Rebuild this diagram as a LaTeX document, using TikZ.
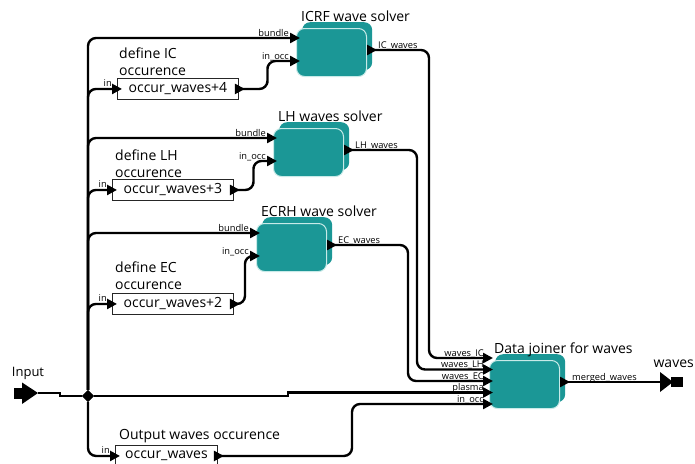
\documentclass[tikz,border=0pt]{standalone}
\usepackage{fontspec}
\setmainfont{Open Sans}
\usetikzlibrary{arrows.meta,calc,shapes.geometric}
\definecolor{actorfill}{RGB}{27,151,150}
\definecolor{actoredge}{RGB}{200,234,232}
\begin{document}
\begin{tikzpicture}[x=1pt,y=-1pt,
  wire/.style={line width=2.4pt, rounded corners=8pt, line join=round},
  tipin/.style={-{Triangle[length=10pt,width=10pt]}},
  tipboth/.style={{Triangle[reversed,length=10pt,width=10pt]}-{Triangle[length=10pt,width=10pt]}},
  actor/.style={fill=actorfill, draw=actoredge, line width=1pt, rounded corners=8pt,
    minimum width=70pt, minimum height=48pt, inner sep=0pt, anchor=north west},
  actorback/.style={fill=actorfill, rounded corners=8pt,
    minimum width=70pt, minimum height=48pt, inner sep=0pt, anchor=north west},
  title/.style={font=\fontsize{14}{16}\selectfont, anchor=base west, inner sep=0pt},
  portlbl/.style={font=\fontsize{9.3}{10}\selectfont, inner sep=0pt},
  expr/.style={draw=black!85, line width=0.9pt, fill=white, minimum width=121pt,
    minimum height=21pt, inner sep=0pt, anchor=north west, font=\fontsize{14}{16}\selectfont},
  caption/.style={font=\fontsize{14}{17}\selectfont, align=left, anchor=base west, inner sep=0pt},
]
\useasboundingbox (0,0) rectangle (695,463);

% ---------- composite actors (stacked teal boxes) ----------
\foreach \nm/\px/\py in {icrf/296/28, lh/273/128, ec/256/223, join/489/360}{
  \node[actorback] (\nm-back) at (\px+6,\py-6) {};
  \node[actor] (\nm) at (\px,\py) {};
}
\node[title] (icrf-title) at ($(icrf.north west)+(5,-7)$) {ICRF wave solver};
\node[title] (lh-title)   at ($(lh.north west)+(5,-7)$)   {LH waves solver};
\node[title] (ec-title)   at ($(ec.north west)+(5,-7)$)   {ECRH wave solver};
\node[title] (join-title) at ($(join.north west)+(5,-7)$) {Data joiner for waves};

% ports of the solvers
\foreach \nm in {icrf, lh, ec}{
  \coordinate (\nm-b)   at ($(\nm.north west)+(4,10)$);
  \coordinate (\nm-o)   at ($(\nm.north west)+(4,33)$);
  \coordinate (\nm-out) at ($(\nm.north east)+(0,22)$);
}
% ports of the joiner
\coordinate (j-ic)  at ($(join.north west)+(4,-2)$);
\coordinate (j-lh)  at ($(join.north west)+(4,9.5)$);
\coordinate (j-ec)  at ($(join.north west)+(4,21)$);
\coordinate (j-pl)  at ($(join.north west)+(4,32.5)$);
\coordinate (j-occ) at ($(join.north west)+(4,44)$);
\coordinate (j-out) at ($(join.north east)+(0,22)$);

% ---------- expression actors ----------
\node[expr] (icdef) at (117,78)  {occur\_waves+4};
\node[expr] (lhdef) at (112,179) {occur\_waves+3};
\node[expr] (ecdef) at (112,293) {occur\_waves+2};
\node[expr, minimum width=102pt] (oocc) at (115,445) {occur\_waves};

% multi-line captions: the base anchor sits on the last line
\node[caption] (icdef-cap) at (119,75)  {define IC\\occurence};
\node[caption] (lhdef-cap) at (115,177) {define LH\\occurence};
\node[caption] (ecdef-cap) at (115,289) {define EC\\occurence};
\node[caption] (oocc-cap)  at (119,439) {Output waves occurence};

\foreach \nm in {icdef, lhdef, ecdef, oocc}{
  \coordinate (\nm-in)  at ($(\nm.west)+(5,0)$);
  \coordinate (\nm-out) at ($(\nm.east)+(-4,0)$);
  \node[portlbl, anchor=base east] at ($(\nm-in)+(-10,-2)$) {in};
}

% ---------- external ports ----------
\coordinate (inport) at (38,393);
\fill[shift={(inport)}] (-24,-5) rectangle (-14,6);
\fill[shift={(inport)}] (-16,-10.5) -- (0,0) -- (-16,11) -- cycle;
\node[font=\fontsize{13}{15}\selectfont, inner sep=0pt] (inport-lbl) at (28,373) {Input};

\coordinate (outport) at (660,382);
\fill[shift={(outport)}] (0,-10) -- (13,0) -- (0,10) -- cycle;
\fill[shift={(outport)}] (11,-5) rectangle (23,5);
\node[font=\fontsize{14}{16}\selectfont, anchor=base east, inner sep=0pt] (outport-lbl) at (694,367) {waves};

% ---------- relation (junction) ----------
\coordinate (instep) at (60,393);
\coordinate (pstep)  at (288,396);
\coordinate (occbend) at (352,0);
\coordinate (icbend) at (429,0);
\coordinate (lhbend) at (417,0);
\coordinate (ecbend) at (408,0);
\node[diamond, fill=black, minimum size=12pt, inner sep=0pt] (jn) at (88,396) {};

% ---------- connectors ----------
\draw[line width=2.4pt] (inport) -- (instep) |- (jn);

\draw[wire, tipin] (jn) |- (icrf-b);
\draw[wire, tipin] (jn) |- (lh-b);
\draw[wire, tipin] (jn) |- (ec-b);
\draw[wire, tipin] (jn) |- (icdef-in);
\draw[wire, tipin] (jn) |- (lhdef-in);
\draw[wire, tipin] (jn) |- (ecdef-in);
\draw[wire, tipin] (jn) |- (oocc-in);
\draw[line width=2.4pt, tipin] (jn) -- (pstep) |- (j-pl);

\draw[wire, tipboth] (icdef-out) -| ($(icdef-out)!.5!(icrf-o)$) |- (icrf-o);
\draw[wire, tipboth] (lhdef-out) -| ($(lhdef-out)!.5!(lh-o)$) |- (lh-o);
\draw[wire, tipboth] (ecdef-out) -| ($(ecdef-out)!.5!(ec-o)$) |- (ec-o);
\draw[wire, tipboth] (oocc-out) -| (occbend |- j-occ) -- (j-occ);

\draw[wire, tipboth] (icrf-out) -| (icbend |- j-ic) -- (j-ic);
\draw[wire, tipboth] (lh-out) -| (lhbend |- j-lh) -- (j-lh);
\draw[wire, tipboth] (ec-out) -| (ecbend |- j-ec) -- (j-ec);
\draw[line width=2.4pt, {Triangle[reversed,length=10pt,width=10pt]}-] (j-out) -- (outport);

\node[diamond, fill=black, minimum size=12pt, inner sep=0pt] at (jn) {};

% ---------- port labels ----------
\foreach \nm in {icrf, lh, ec}{
  \node[portlbl, anchor=base east] at ($(\nm-b)+(-11,-2)$) {bundle};
  \node[portlbl, anchor=base east] at ($(\nm-o)+(-11,-2)$) {in\_occ};
}
\node[portlbl, anchor=base west] at ($(icrf-out)+(11,-2)$) {IC\_waves};
\node[portlbl, anchor=base west] at ($(lh-out)+(11,-2)$)   {LH\_waves};
\node[portlbl, anchor=base west] at ($(ec-out)+(11,-2)$)   {EC\_waves};
\node[portlbl, anchor=base east] at ($(j-ic)+(-9,-2)$)  {waves\_IC};
\node[portlbl, anchor=base east] at ($(j-lh)+(-9,-2)$)  {waves\_LH};
\node[portlbl, anchor=base east] at ($(j-ec)+(-9,-2)$)  {waves\_EC};
\node[portlbl, anchor=base east] at ($(j-pl)+(-9,-2)$)  {plasma};
\node[portlbl, anchor=base east] at ($(j-occ)+(-9,-2)$) {in\_occ};
\node[portlbl, anchor=base west] at ($(j-out)+(12,-2)$) {merged\_waves};
\end{tikzpicture}
\end{document}
